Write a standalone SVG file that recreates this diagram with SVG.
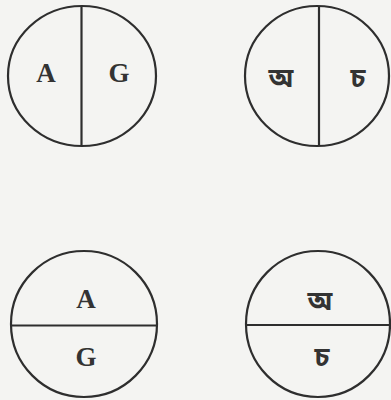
<svg xmlns="http://www.w3.org/2000/svg" width="391" height="400" viewBox="0 0 391 400">
<style>
.c{fill:none;stroke:#2e2e2e;stroke-width:2.2}
.d{stroke:#2e2e2e;stroke-width:2.2}
.l{font-family:"Liberation Serif","Times New Roman",serif;font-weight:bold;font-size:27px;fill:#333;text-anchor:middle}
.b{font-family:"Noto Sans Bengali","Noto Serif Bengali","Lohit Bengali","Noto Sans",sans-serif;font-weight:bold;font-size:27px;fill:#333;text-anchor:middle}
</style>
<rect width="391" height="400" fill="#f4f4f2"/>
<g id="circle-tl">
<ellipse class="c" cx="82" cy="76" rx="74" ry="70"/>
<line class="d" x1="81.5" y1="6" x2="81.5" y2="146"/>
<text class="l" x="46" y="82">A</text>
<text class="l" x="119" y="82">G</text>
</g>
<g id="circle-tr">
<ellipse class="c" cx="317" cy="76" rx="72" ry="70"/>
<line class="d" x1="319" y1="6" x2="319" y2="146"/>
<text class="b" x="281" y="87">অ</text>
<text class="b" x="358" y="87">চ</text>
</g>
<g id="circle-bl">
<ellipse class="c" cx="84" cy="324" rx="73" ry="73"/>
<line class="d" x1="11" y1="325.5" x2="157" y2="325.5"/>
<text class="l" x="86" y="308">A</text>
<text class="l" x="86" y="366">G</text>
</g>
<g id="circle-br">
<ellipse class="c" cx="318" cy="324" rx="72" ry="73"/>
<line class="d" x1="246" y1="325" x2="391" y2="325"/>
<text class="b" x="320" y="310">অ</text>
<text class="b" x="322" y="366">চ</text>
</g>
</svg>
